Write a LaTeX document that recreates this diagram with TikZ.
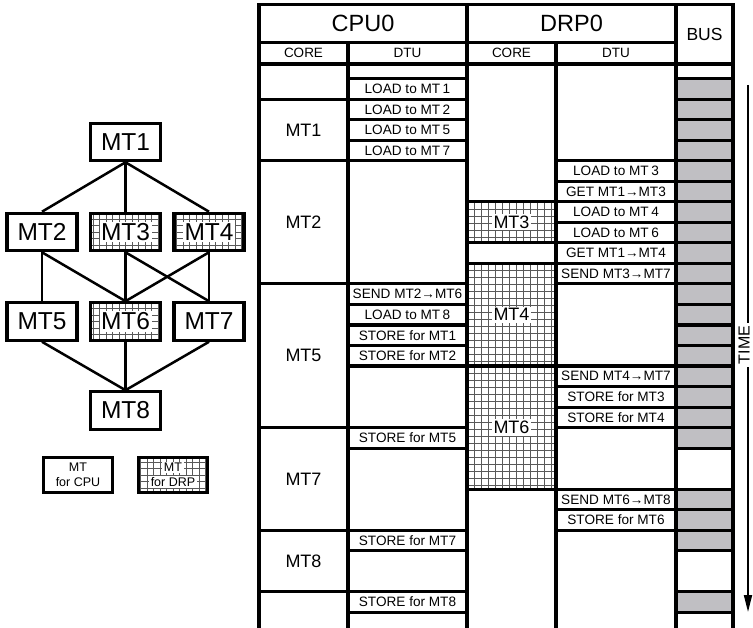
\documentclass[tikz,border=0pt]{standalone}
\usepackage{fontspec}
\setmainfont{Liberation Sans}
\usetikzlibrary{arrows.meta}
\definecolor{busgray}{RGB}{192,191,195}
\newcommand\myfs[1]{\fontsize{#1}{#1}\selectfont}
\newcommand\Lk[1]{78.6+20.53*#1}
\setlength\fboxsep{1.5pt}
\newcommand\gridcell[4]{%
  \begin{scope}
    \clip (#1,{#2}) rectangle (#3,{#4});
    \foreach \gx in {0,7,...,126} \draw[gridline] ({#1+\gx},{#2}) -- ({#1+\gx},{#4});
    \foreach \gy in {0,7,...,182} \draw[gridline] (#1,{#2+\gy}) -- (#3,{#2+\gy});
  \end{scope}}
\begin{document}
\begin{tikzpicture}[x=1pt,y=-1pt,
  gridline/.style={black!65, line width=0.5pt},
  tbl/.style={line width=3.1pt},
  edge/.style={line width=2.5pt},
  drpgrid/.style={path picture={
    \foreach \gx in {-45.5,-39,...,46} \draw[gridline] ([xshift=\gx pt]path picture bounding box.center) ++(0pt,-30pt) -- ++(0pt,60pt);
    \foreach \gy in {-26,-19.5,...,27} \draw[gridline] ([yshift=\gy pt]path picture bounding box.center) ++(-50pt,0pt) -- ++(100pt,0pt);
  }},
  mt/.style={draw, line width=3.1pt, minimum width=70pt, minimum height=37.5pt, inner sep=0pt, font=\myfs{24.5}},
  legend/.style={draw, line width=3.1pt, minimum width=69pt, minimum height=35pt, inner sep=0pt, align=center, font=\fontsize{12.5}{15}\selectfont},
  hdr/.style={inner sep=0pt, font=\myfs{23.5}},
  busf/.style={inner sep=0pt, font=\myfs{17.5}},
  sub/.style={inner sep=0pt, font=\myfs{13.5}},
  core/.style={inner sep=1.8pt, font=\myfs{18}},
  corew/.style={core, fill=white},
  dtu/.style={inner sep=0pt, font=\myfs{13.6}},
  timef/.style={inner xsep=3pt, inner ysep=0pt, font=\myfs{16}, rotate=90}
]
\useasboundingbox (0,0) rectangle (753,628);

% ---------------- left graph ----------------
\node[mt] (mt1) at (125.5,142) {MT1};
\node[mt] (mt2) at (42,232) {MT2};
\node[mt, drpgrid] (mt3) at (125.5,232) {\colorbox{white}{MT3}};
\node[mt, drpgrid] (mt4) at (209,232) {\colorbox{white}{MT4}};
\node[mt] (mt5) at (42,321.5) {MT5};
\node[mt, drpgrid] (mt6) at (125.5,321.5) {\colorbox{white}{MT6}};
\node[mt] (mt7) at (209,321.5) {MT7};
\node[mt] (mt8) at (125.5,410.5) {MT8};

\draw[edge] (mt1.south) -- (mt2.north);
\draw[edge] (mt1.south) -- (mt3.north);
\draw[edge] (mt1.south) -- (mt4.north);
\draw[edge] (mt2.south) -- (mt5.north);
\draw[edge] (mt2.south) -- (mt6.north);
\draw[edge] (mt3.south) -- (mt6.north);
\draw[edge] (mt3.south) -- (mt7.north);
\draw[edge] (mt4.south) -- (mt6.north);
\draw[edge] (mt4.south) -- (mt7.north);
\draw[edge] (mt5.south) -- (mt8.north);
\draw[edge] (mt6.south) -- (mt8.north);
\draw[edge] (mt7.south) -- (mt8.north);

\node[legend] (legcpu) at (78,475) {MT\\for CPU};
\node[legend, drpgrid] (legdrp) at (173,475) {\colorbox{white}{MT}\\\colorbox{white}{for DRP}};

% ---------------- table fills ----------------
\foreach \k in {0,...,17,20,21,22,25}
  \fill[busgray] (676,{\Lk{\k}}) rectangle (733,{\Lk{\k}+20.53});
\gridcell{467}{\Lk{6}}{556}{\Lk{8}}
\gridcell{467}{\Lk{9}}{556}{\Lk{14}}
\gridcell{467}{\Lk{14}}{556}{\Lk{20}}

% ---------------- table lines ----------------
\draw[tbl, line join=miter] (259,628) -- (259,4.5) -- (733,4.5) -- (733,628);
\draw[tbl] (348,42.5) -- (348,628);
\draw[tbl] (467,4.5) -- (467,628);
\draw[tbl] (556,42.5) -- (556,628);
\draw[tbl] (676,4.5) -- (676,628);
\draw[tbl] (259,42.5) -- (676,42.5);
\draw[tbl] (259,64) -- (733,64);

\foreach \k in {1,4,10,17,22,25}
  \draw[tbl] (259,{\Lk{\k}}) -- (348,{\Lk{\k}});
\foreach \k in {0,1,2,3,4,10,11,12,13,14,17,18,22,23,25,26}
  \draw[tbl] (348,{\Lk{\k}}) -- (467,{\Lk{\k}});
\foreach \k in {6,8,9,14,20}
  \draw[tbl] (467,{\Lk{\k}}) -- (556,{\Lk{\k}});
\foreach \k in {4,5,6,7,8,9,10,14,15,16,17,20,21,22}
  \draw[tbl] (556,{\Lk{\k}}) -- (676,{\Lk{\k}});
\foreach \k in {0,...,18,20,21,22,23,25,26}
  \draw[tbl] (676,{\Lk{\k}}) -- (733,{\Lk{\k}});

% ---------------- header text ----------------
\node[hdr] (cpu0) at (363,23.5) {CPU0};
\node[hdr] (drp0) at (571.5,23.5) {DRP0};
\node[busf] (bus) at (704.5,34.5) {BUS};
\node[sub] (ccore) at (303.5,53.3) {CORE};
\node[sub] (cdtu) at (407.5,53.3) {DTU};
\node[sub] (dcore) at (511.5,53.3) {CORE};
\node[sub] (ddtu) at (616,53.3) {DTU};

% ---------------- core cells ----------------
\node[core] (cmt1) at (303.5,{\Lk{2.5}}) {MT1};
\node[core] (cmt2) at (303.5,{\Lk{7}}) {MT2};
\node[core] (cmt5) at (303.5,{\Lk{13.5}}) {MT5};
\node[core] (cmt7) at (303.5,{\Lk{19.5}}) {MT7};
\node[core] (cmt8) at (303.5,{\Lk{23.5}}) {MT8};
\node[corew] (dmt3) at (511.5,{\Lk{7}}) {MT3};
\node[corew] (dmt4) at (511.5,{\Lk{11.5}}) {MT4};
\node[corew] (dmt6) at (511.5,{\Lk{17}}) {MT6};

% ---------------- CPU DTU ----------------
\node[dtu] (c0) at (407.5,{\Lk{0.5}}) {LOAD to MT\kern2.5pt1};
\node[dtu] (c1) at (407.5,{\Lk{1.5}}) {LOAD to MT\kern2.5pt2};
\node[dtu] (c2) at (407.5,{\Lk{2.5}}) {LOAD to MT\kern2.5pt5};
\node[dtu] (c3) at (407.5,{\Lk{3.5}}) {LOAD to MT\kern2.5pt7};
\node[dtu] (c10) at (407.5,{\Lk{10.5}}) {SEND MT2→MT6};
\node[dtu] (c11) at (407.5,{\Lk{11.5}}) {LOAD to MT\kern2.5pt8};
\node[dtu] (c12) at (407.5,{\Lk{12.5}}) {STORE for MT1};
\node[dtu] (c13) at (407.5,{\Lk{13.5}}) {STORE for MT2};
\node[dtu] (c17) at (407.5,{\Lk{17.5}}) {STORE for MT5};
\node[dtu] (c22) at (407.5,{\Lk{22.5}}) {STORE for MT7};
\node[dtu] (c25) at (407.5,{\Lk{25.5}}) {STORE for MT8};

% ---------------- DRP DTU ----------------
\node[dtu] (d4) at (616,{\Lk{4.5}}) {LOAD to MT\kern2.5pt3};
\node[dtu] (d5) at (616,{\Lk{5.5}}) {GET MT1→MT3};
\node[dtu] (d6) at (616,{\Lk{6.5}}) {LOAD to MT\kern2.5pt4};
\node[dtu] (d7) at (616,{\Lk{7.5}}) {LOAD to MT\kern2.5pt6};
\node[dtu] (d8) at (616,{\Lk{8.5}}) {GET MT1→MT4};
\node[dtu] (d9) at (616,{\Lk{9.5}}) {SEND MT3→MT7};
\node[dtu] (d14) at (616,{\Lk{14.5}}) {SEND MT4→MT7};
\node[dtu] (d15) at (616,{\Lk{15.5}}) {STORE for MT3};
\node[dtu] (d16) at (616,{\Lk{16.5}}) {STORE for MT4};
\node[dtu] (d20) at (616,{\Lk{20.5}}) {SEND MT6→MT8};
\node[dtu] (d21) at (616,{\Lk{21.5}}) {STORE for MT6};

% ---------------- TIME arrow ----------------
\coordinate (timetop) at (748,85);
\coordinate (timebot) at (748,612);
\node[timef] (timelbl) at (744,345) {TIME};
\draw[line width=1.8pt] (timetop) -- (timetop |- timelbl.east);
\draw[line width=1.8pt, -{Triangle[length=17pt,width=8pt]}] (timebot |- timelbl.west) -- (timebot);
\end{tikzpicture}
\end{document}
